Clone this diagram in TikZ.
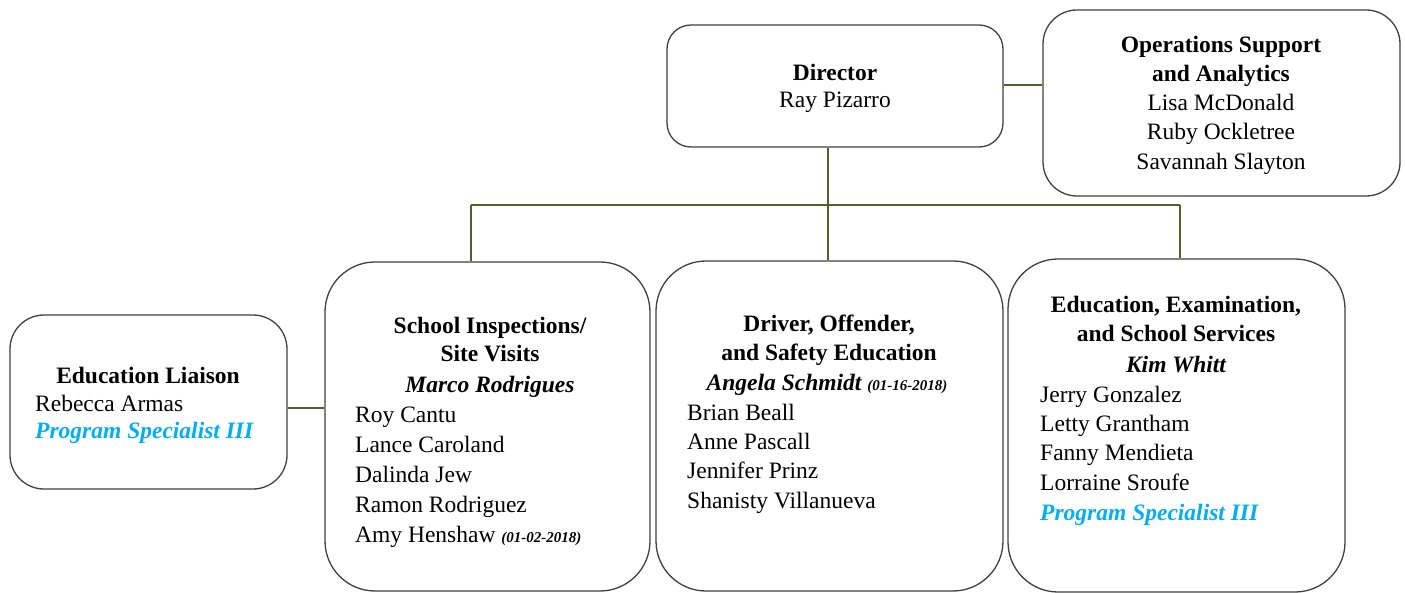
\documentclass[tikz,border=0pt]{standalone}
\usepackage{fontspec}
\setmainfont{Liberation Serif}
\begin{document}
\begin{tikzpicture}[x=1pt,y=-1pt,
  box/.style={draw=black!75, line width=1.3pt, fill=white, inner sep=0pt},
  conn/.style={draw={rgb,255:red,79;green,98;blue,40}, line width=1.2pt},
  tx/.style={inner sep=0pt, font=\fontsize{23.5}{28}\selectfont},
  hd/.style={tx, anchor=base, font=\fontsize{23.5}{28}\selectfont\bfseries},
  hi/.style={tx, anchor=base, font=\fontsize{23.5}{28}\selectfont\bfseries\itshape},
  nm/.style={tx, anchor=base west},
  nmc/.style={tx, anchor=base},
  ps/.style={tx, anchor=base west, text={rgb,255:red,0;green,176;blue,240}, font=\fontsize{23.5}{28}\selectfont\bfseries\itshape}
]
\useasboundingbox (0,0) rectangle (1405,593);
\newcommand{\dt}[1]{{\fontsize{15}{18}\selectfont\bfseries\itshape #1}}

% boxes
\node[box, minimum width=336pt, minimum height=122pt, rounded corners=24pt] (dir) at (835,86) {};
\node[box, minimum width=357pt, minimum height=186pt, rounded corners=34pt] (ops) at (1221.5,103) {};
\node[box, minimum width=277pt, minimum height=174pt, rounded corners=34pt] (lia) at (148.5,402) {};
\node[box, minimum width=325pt, minimum height=329pt, rounded corners=50pt] (sch) at (487.5,426.5) {};
\node[box, minimum width=347pt, minimum height=330pt, rounded corners=50pt] (drv) at (829.5,426) {};
\node[box, minimum width=337pt, minimum height=333pt, rounded corners=50pt] (edu) at (1176.5,425.5) {};

% connectors
\coordinate (jL) at (471,205);
\coordinate (jM) at (828,205);
\coordinate (jR) at (1180,205);
\coordinate (jLi) at (0,408);
\coordinate (jOp) at (0,85);
\draw[conn] (dir.east |- jOp) -- (ops.west |- jOp);
\draw[conn] (dir.south -| jM) -- (jM |- drv.north);
\draw[conn] (jL) -- (jR);
\draw[conn] (jL) -- (jL |- sch.north);
\draw[conn] (jR) -- (jR |- edu.north);
\draw[conn] (lia.east |- jLi) -- (sch.west |- jLi);

% Director
\node[hd] (dirA) at (835,81) {Director};
\node[nmc] (dirB) at (835,108) {Ray Pizarro};

% Operations
\node[hd] (opsA) at (1221,53) {Operations Support};
\node[hd] (opsB) at (1221,82) {and Analytics};
\node[nmc] (opsC) at (1221,111) {Lisa McDonald};
\node[nmc] (opsD) at (1221,140) {Ruby Ockletree};
\node[nmc] (opsE) at (1221,170) {Savannah Slayton};

% Liaison
\node[hd] (liaA) at (148,384) {Education Liaison};
\node[nm] (liaB) at (35,411) {Rebecca Armas};
\node[ps] (liaC) at (35,438) {Program Specialist III};

% School Inspections
\node[hd] (schA) at (490,334) {School Inspections/};
\node[hd] (schB) at (490,362) {Site Visits};
\node[hi] (schC) at (490,392) {Marco Rodrigues};
\node[nm] (schD) at (355,422) {Roy Cantu};
\node[nm] (schE) at (355,452) {Lance Caroland};
\node[nm] (schF) at (355,482) {Dalinda Jew};
\node[nm] (schG) at (355,512) {Ramon Rodriguez};
\node[nm] (schH) at (355,542) {Amy Henshaw \dt{(01-02-2018)}};

% Driver
\node[hd] (drvA) at (829,332) {Driver, Offender,};
\node[hd] (drvB) at (829,360) {and Safety Education};
\node[hi] (drvC) at (827,390) {Angela Schmidt \dt{(01-16-2018)}};
\node[nm] (drvD) at (687,420) {Brian Beall};
\node[nm] (drvE) at (687,449) {Anne Pascall};
\node[nm] (drvF) at (687,478) {Jennifer Prinz};
\node[nm] (drvG) at (687,508) {Shanisty Villanueva};

% Education, Examination
\node[hd] (eduA) at (1176,313) {Education, Examination,};
\node[hd] (eduB) at (1176,342) {and School Services};
\node[hi] (eduC) at (1176,372) {Kim Whitt};
\node[nm] (eduD) at (1040,402) {Jerry Gonzalez};
\node[nm] (eduE) at (1040,431) {Letty Grantham};
\node[nm] (eduF) at (1040,460) {Fanny Mendieta};
\node[nm] (eduG) at (1040,490) {Lorraine Sroufe};
\node[ps] (eduH) at (1040,520) {Program Specialist III};
\end{tikzpicture}
\end{document}
